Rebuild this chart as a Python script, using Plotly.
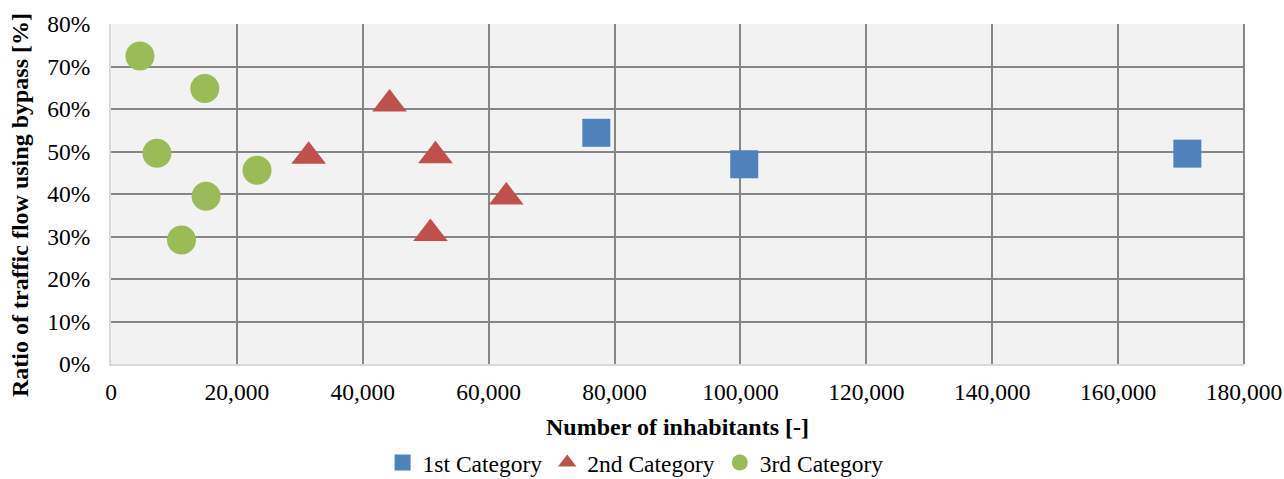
import plotly.graph_objects as go

# Data
cat1_x = [77100, 100600, 171000]
cat1_y = [54.4, 47.0, 49.5]

cat2_x = [31400, 44250, 51550, 62800, 50750]
cat2_y = [48.9, 61.2, 49.0, 39.3, 30.7]

cat3_x = [4600, 14900, 7300, 23200, 15100, 11200]
cat3_y = [72.5, 64.8, 49.6, 45.6, 39.5, 29.2]

series_names = ["1st Category", "2nd Category", "3rd Category"]
x_ticks = [0, 20000, 40000, 60000, 80000, 100000, 120000, 140000, 160000, 180000]
y_ticks = [0, 10, 20, 30, 40, 50, 60, 70, 80]

FONT = "Liberation Serif, Times New Roman, serif"

fig = go.Figure()
fig.add_trace(go.Scatter(x=cat1_x, y=cat1_y, mode="markers", name=series_names[0],
                         marker=dict(symbol="square", size=28, color="#4f81bd")))
fig.add_trace(go.Scatter(x=cat2_x, y=cat2_y, mode="markers", name=series_names[1],
                         marker=dict(symbol="triangle-up", size=30, color="#c0504d")))
fig.add_trace(go.Scatter(x=cat3_x, y=cat3_y, mode="markers", name=series_names[2],
                         marker=dict(symbol="circle", size=29, color="#9bbb59")))

fig.update_layout(
    width=1284, height=479,
    margin=dict(l=111, r=40, t=24, b=115),
    paper_bgcolor="white",
    plot_bgcolor="#f2f2f2",
    font=dict(family=FONT, size=23.5, color="black"),
    showlegend=True,
    legend=dict(orientation="h", xref="container", x=0.495, xanchor="center",
                yref="container", y=0.034, yanchor="middle",
                font=dict(size=23.5), itemwidth=30, tracegroupgap=0,
                bgcolor="rgba(0,0,0,0)"),
)

fig.update_xaxes(
    range=[0, 180000], tickvals=x_ticks,
    ticktext=[f"{v:,}" for v in x_ticks],
    showgrid=True, gridcolor="#868686", gridwidth=2,
    zeroline=False, showline=True, linecolor="#d9d9d9", linewidth=2, mirror=False,
    ticks="outside", ticklen=6, tickcolor="rgba(0,0,0,0)",
    automargin=False,
    title=dict(text="<b>Number of inhabitants [-]</b>", font=dict(size=24), standoff=14),
)
fig.update_yaxes(
    range=[0, 80], tickvals=y_ticks,
    ticktext=[f"{v}%" for v in y_ticks],
    showgrid=True, gridcolor="#868686", gridwidth=2,
    zeroline=False, showline=True, linecolor="#d9d9d9", linewidth=2,
    ticks="outside", ticklen=14, tickcolor="rgba(0,0,0,0)",
    automargin=False,
)

# y-axis title placed like the reference
fig.add_annotation(text="<b>Ratio of traffic flow using bypass [%]</b>",
                   xref="paper", yref="paper", x=(20 - 111) / 1133, y=(364 - 205) / 340,
                   xanchor="center", yanchor="middle", textangle=-90, showarrow=False,
                   font=dict(size=24))

# right border of plot area (darker, like reference)
fig.add_shape(type="line", xref="paper", yref="paper", x0=1, x1=1, y0=0, y1=1,
              line=dict(color="#868686", width=2), layer="below")

fig.write_html("out.html", config={"displayModeBar": False},
               post_script="document.body.style.margin='0';")
